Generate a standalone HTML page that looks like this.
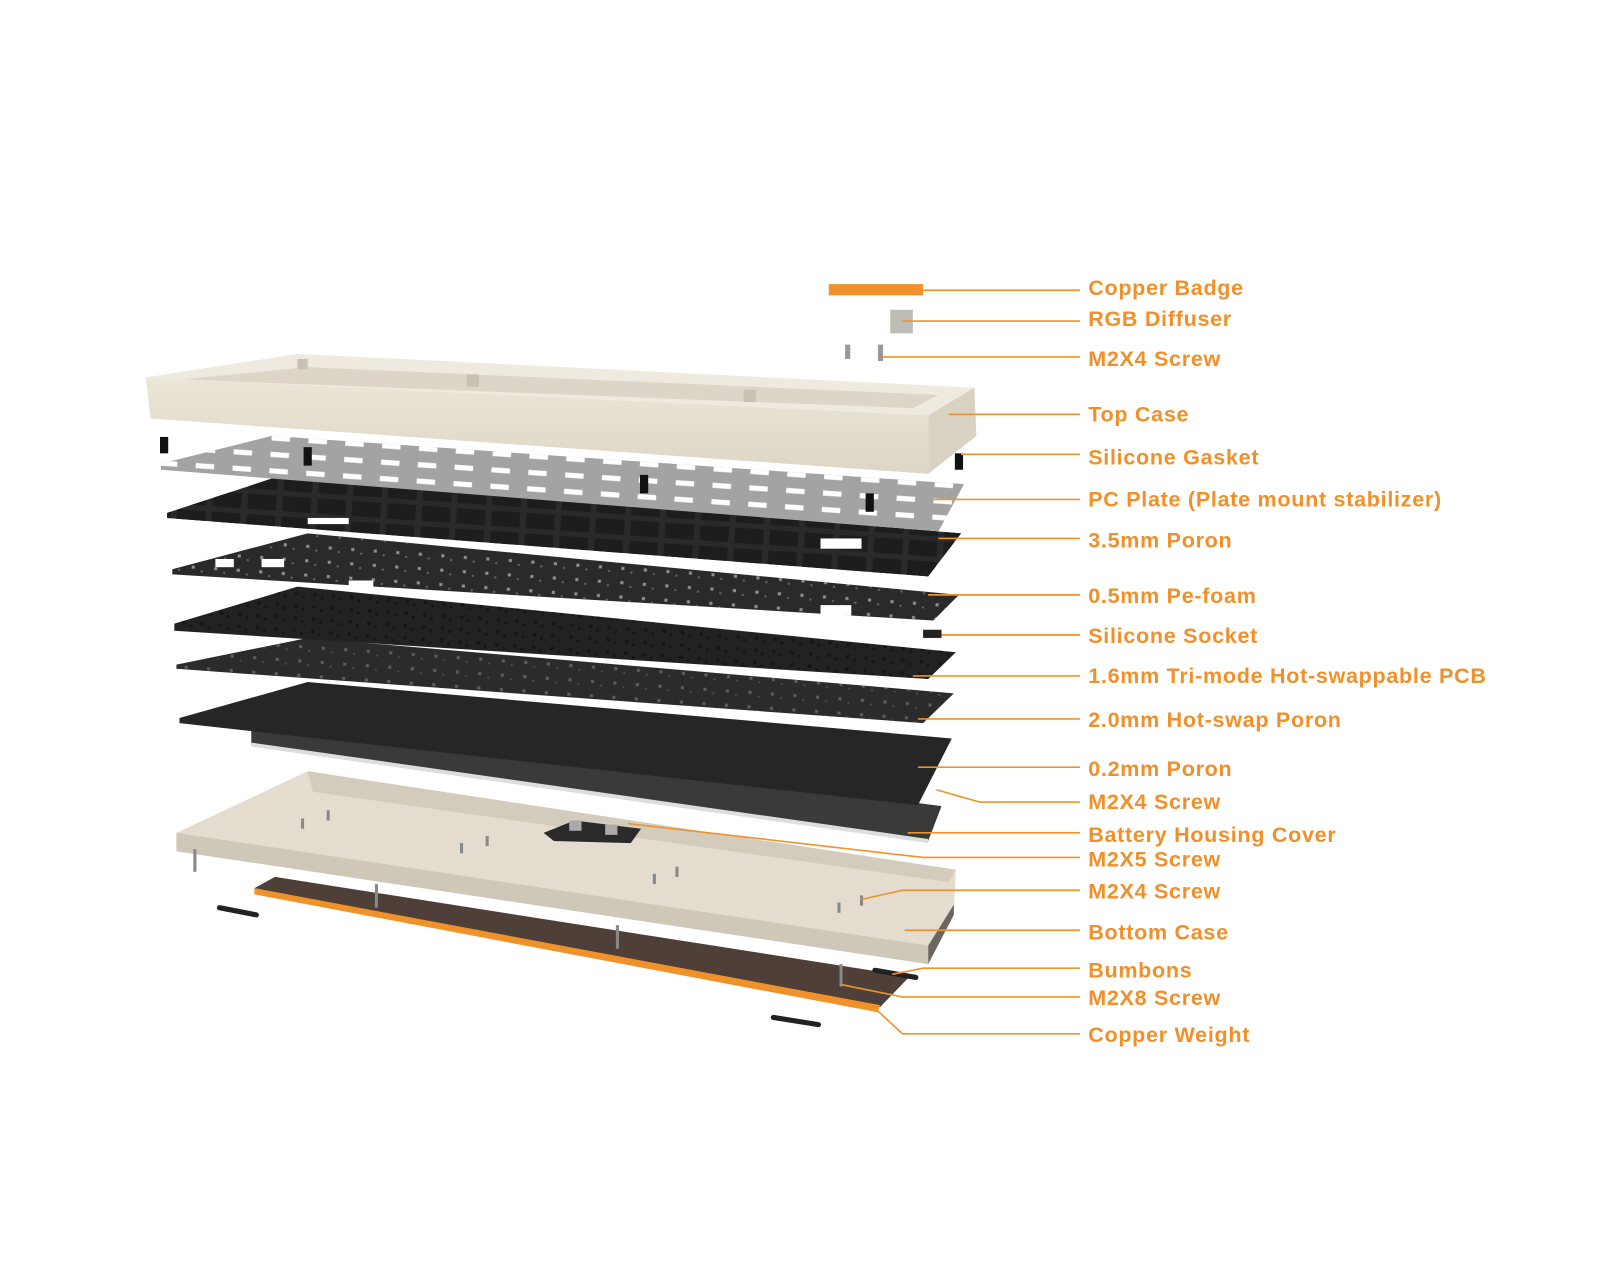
<!DOCTYPE html>
<html><head><meta charset="utf-8"><style>
html,body{margin:0;padding:0;background:#fff;width:1600px;height:1280px;overflow:hidden}
svg{display:block}
text{font-family:"Liberation Sans",sans-serif;font-weight:bold;font-size:21px;letter-spacing:0.7px;fill:#f0902a}
</style></head><body>
<svg width="1600" height="1280" viewBox="0 0 1560 1248" xmlns="http://www.w3.org/2000/svg">
<defs>
<pattern id="slots" width="36" height="16" patternUnits="userSpaceOnUse" patternTransform="rotate(4)">
<rect x="6" y="5" width="18" height="5" fill="#fff"/></pattern>
<pattern id="cells" width="34" height="20" patternUnits="userSpaceOnUse" patternTransform="rotate(4)">
<rect x="3" y="3" width="28" height="15" fill="#1d1d1d"/></pattern>
<pattern id="dots" width="22" height="14" patternUnits="userSpaceOnUse" patternTransform="rotate(4)">
<rect x="5" y="5" width="3" height="3" fill="#aaa"/><rect x="14" y="9" width="2" height="2" fill="#777"/></pattern>
<pattern id="pcb" width="18" height="12" patternUnits="userSpaceOnUse" patternTransform="rotate(4)">
<circle cx="5" cy="5" r="2" fill="#111"/><circle cx="12" cy="8" r="1.5" fill="#111"/></pattern>
<linearGradient id="cream" x1="0" y1="0" x2="0" y2="1"><stop offset="0" stop-color="#ece6d8"/><stop offset="1" stop-color="#ddd6c6"/></linearGradient>
</defs>

<!-- bottom case -->
<polygon points="172,812 300,752 932,848 930,890 905,935 172,830" fill="#e4ddcf"/>
<polygon points="300,752 305,772 925,860 932,848" fill="#d3ccbd"/>
<polygon points="172,812 905,922 905,940 172,830" fill="#cfc8b9"/>
<polygon points="905,922 930,882 930,892 905,940" fill="#6b6660"/>
<!-- copper weight -->
<polygon points="248,866 268,855 887,952 858,982" fill="#4e4038"/>
<polygon points="248,866 858,980 856,987 248,872" fill="#f0922a"/>
<!-- bumbons -->
<line x1="214" y1="885" x2="250" y2="892" stroke="#222" stroke-width="5" stroke-linecap="round"/>
<line x1="754" y1="992" x2="798" y2="999" stroke="#222" stroke-width="5" stroke-linecap="round"/>
<line x1="853" y1="946" x2="893" y2="953" stroke="#222" stroke-width="5" stroke-linecap="round"/>
<g stroke="#888" stroke-width="3">
<line x1="190" y1="828" x2="190" y2="850"/><line x1="367" y1="862" x2="367" y2="885"/><line x1="602" y1="902" x2="602" y2="925"/><line x1="820" y1="940" x2="820" y2="962"/>
<line x1="295" y1="798" x2="295" y2="808"/><line x1="320" y1="790" x2="320" y2="800"/><line x1="450" y1="822" x2="450" y2="832"/><line x1="475" y1="815" x2="475" y2="825"/><line x1="638" y1="852" x2="638" y2="862"/><line x1="660" y1="845" x2="660" y2="855"/><line x1="818" y1="880" x2="818" y2="890"/><line x1="840" y1="873" x2="840" y2="883"/>
</g>
<polygon points="530,812 560,800 625,808 615,822 540,820" fill="#2a2a2a"/>
<rect x="555" y="800" width="12" height="10" fill="#aaa"/><rect x="590" y="804" width="12" height="10" fill="#aaa"/>

<!-- battery housing cover plate -->
<polygon points="245,712 300,705 918,786 905,820 245,726" fill="#3a3a3a"/>
<polygon points="245,724 905,818 905,822 245,728" fill="#ddd"/>
<!-- 0.2mm poron -->
<polygon points="175,700 300,665 928,720 895,785 175,705" fill="#262626"/>
<!-- 2.0 hotswap poron -->
<polygon points="172,648 300,622 930,676 900,705 172,652" fill="#2b2b2b"/>
<polygon points="172,648 300,622 930,676 900,705 172,652" fill="url(#dots)" opacity="0.4"/>
<!-- PCB -->
<polygon points="170,608 290,572 932,636 905,662 170,615" fill="#222"/>
<polygon points="170,608 290,572 932,636 905,662 170,615" fill="url(#pcb)" opacity="0.7"/>
<rect x="900" y="614" width="18" height="8" fill="#222"/>
<!-- pe-foam -->
<polygon points="168,555 300,520 935,580 910,605 168,560" fill="#2a2a2a"/>
<polygon points="168,555 300,520 935,580 910,605 168,560" fill="url(#dots)" opacity="0.8"/>
<rect x="800" y="590" width="30" height="10" fill="#fff"/><rect x="713" y="596" width="14" height="6" fill="#fff"/><rect x="560" y="587" width="20" height="8" fill="#fff"/>
<rect x="210" y="545" width="18" height="8" fill="#fff"/><rect x="255" y="545" width="22" height="8" fill="#fff"/><rect x="340" y="566" width="24" height="8" fill="#fff"/>
<!-- 3.5mm poron -->
<polygon points="163,500 270,465 937,520 905,562 163,505" fill="#2a2a2a"/>
<polygon points="163,500 270,465 937,520 905,562 163,505" fill="url(#cells)"/>
<rect x="800" y="525" width="40" height="10" fill="#fff"/><rect x="300" y="505" width="40" height="6" fill="#fff"/>
<!-- PC plate -->
<polygon points="157,452 265,425 940,472 915,518 157,458" fill="#a3a3a3"/>
<polygon points="157,452 265,425 940,472 915,518 157,458" fill="url(#slots)"/>
<g fill="#111"><rect x="156" y="426" width="8" height="16"/><rect x="296" y="436" width="8" height="18"/><rect x="624" y="463" width="8" height="18"/><rect x="844" y="481" width="8" height="18"/><rect x="931" y="442" width="8" height="16"/></g>

<!-- top case -->
<polygon points="142,368 290,345 950,378 905,405" fill="#efeadf"/>
<polygon points="175,370 300,358 915,385 890,398" fill="#ddd6c8"/>
<polygon points="142,368 905,405 905,462 147,408" fill="url(#cream)"/>
<polygon points="905,405 950,378 952,425 905,462" fill="#d9d2c3"/>
<rect x="455" y="365" width="12" height="12" fill="#c9c2b2"/><rect x="725" y="380" width="12" height="12" fill="#c9c2b2"/><rect x="290" y="350" width="10" height="10" fill="#c9c2b2"/>

<rect x="808" y="277" width="92" height="11" fill="#f0922a"/>
<rect x="868" y="302" width="22" height="23" fill="#bdbdb5"/>
<rect x="824" y="336" width="5" height="14" fill="#999"/><rect x="856" y="336" width="5" height="16" fill="#999"/>

<g stroke="#f0922a" stroke-width="1.6" fill="none">
<polyline points="900,283 1053,283"/>
<polyline points="880,313 1053,313"/>
<polyline points="860,348 1053,348"/>
<polyline points="925,404 1053,404"/>
<polyline points="937,443 1053,443"/>
<polyline points="910,487 1053,487"/>
<polyline points="915,525 1053,525"/>
<polyline points="905,580 1053,580"/>
<polyline points="918,619 1053,619"/>
<polyline points="890,659 1053,659"/>
<polyline points="895,701 1053,701"/>
<polyline points="895,748 1053,748"/>
<polyline points="913,770 955,782 1053,782"/>
<polyline points="885,812 1053,812"/>
<polyline points="612,803 900,836 1053,836"/>
<polyline points="840,877 880,868 1053,868"/>
<polyline points="882,907 1053,907"/>
<polyline points="870,950 900,944 1053,944"/>
<polyline points="820,960 880,972 1053,972"/>
<polyline points="855,985 880,1008 1053,1008"/>
</g>

<g dominant-baseline="central">
<text x="1061" y="281">Copper Badge</text>
<text x="1061" y="311">RGB Diffuser</text>
<text x="1061" y="350">M2X4 Screw</text>
<text x="1061" y="404">Top Case</text>
<text x="1061" y="446">Silicone Gasket</text>
<text x="1061" y="487">PC Plate (Plate mount stabilizer)</text>
<text x="1061" y="527">3.5mm Poron</text>
<text x="1061" y="581">0.5mm Pe-foam</text>
<text x="1061" y="620">Silicone Socket</text>
<text x="1061" y="659">1.6mm Tri-mode Hot-swappable PCB</text>
<text x="1061" y="702">2.0mm Hot-swap Poron</text>
<text x="1061" y="750">0.2mm Poron</text>
<text x="1061" y="782">M2X4 Screw</text>
<text x="1061" y="814">Battery Housing Cover</text>
<text x="1061" y="838">M2X5 Screw</text>
<text x="1061" y="869">M2X4 Screw</text>
<text x="1061" y="909">Bottom Case</text>
<text x="1061" y="946">Bumbons</text>
<text x="1061" y="973">M2X8 Screw</text>
<text x="1061" y="1009">Copper Weight</text>
</g>
</svg>
</body></html>
